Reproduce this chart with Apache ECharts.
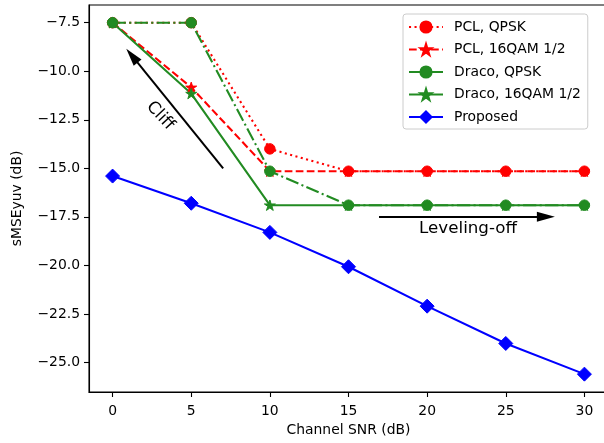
<!DOCTYPE html>
<html>
<head>
<meta charset="utf-8">
<script src="https://cdn.jsdelivr.net/npm/echarts@6/dist/echarts.min.js"></script>
<style>
  html, body { margin: 0; padding: 0; background: #fff; }
  #chart { width: 604px; height: 443px; }
</style>
</head>
<body>
<div id="chart"></div>
<script>
// channel SNR (dB)
const snr = [0, 5, 10, 15, 20, 25, 30]
const pclQpsk = [-7.5, -7.5, -14.0, -15.15, -15.15, -15.15, -15.15]
const pcl16qam = [-7.5, -10.83, -15.15, -15.15, -15.15, -15.15, -15.15]
const dracoQpsk = [-7.5, -7.5, -15.15, -16.9, -16.9, -16.9, -16.9]
const draco16qam = [-7.5, -11.15, -16.9, -16.9, -16.9, -16.9, -16.9]
const proposed = [-15.4, -16.8, -18.3, -20.07, -22.1, -24.02, -25.6]

const xTicks = [0, 5, 10, 15, 20, 25, 30]
const yTicks = [-25, -22.5, -20, -17.5, -15, -12.5, -10, -7.5]

const FONT = 'DejaVu Sans'
const STAR = 'path://M100,0L122.45,69.1L195.1,69.1L136.3,111.8L158.8,180.9L100,138.2L41.2,180.9L63.7,111.8L4.9,69.1L77.55,69.1Z'
const LW = 2.08

function pairs(ys) {
  return snr.map((x, i) => [x, ys[i]])
}

function lineSeries(name, ys, color, dash, symbol, size) {
  return {
    name: name,
    type: 'line',
    data: pairs(ys),
    symbol: symbol,
    symbolSize: size,
    symbolKeepAspect: true,
    showSymbol: true,
    lineStyle: { color: color, width: LW, type: dash },
    itemStyle: { color: color, borderColor: color, borderWidth: 1 }
  }
}

const axisText = { fontFamily: FONT, fontSize: 13.9, color: '#000' }

const chart = echarts.init(document.getElementById('chart'))
chart.setOption({
  animation: false,
  grid: {
    left: 89,
    top: 5,
    right: -4,
    bottom: 51,
    outerBoundsMode: 'none',
    containLabel: false,
    show: true,
    borderColor: '#000',
    borderWidth: 1.1
  },
  legend: {
    orient: 'vertical',
    left: 403,
    top: 14,
    itemWidth: 34,
    itemHeight: 14,
    itemGap: 8.5,
    padding: [6, 7, 5, 5],
    backgroundColor: 'rgba(255,255,255,0.8)',
    borderColor: '#cccccc',
    borderWidth: 1,
    borderRadius: 3,
    textStyle: { fontFamily: FONT, fontSize: 13.9, color: '#000', padding: [0, 0, 0, 6] },
    data: ['PCL, QPSK', 'PCL, 16QAM 1/2', 'Draco, QPSK', 'Draco, 16QAM 1/2', 'Proposed']
  },
  xAxis: {
    type: 'value',
    min: -1.5,
    max: 31.5,
    name: 'Channel SNR (dB)',
    nameLocation: 'middle',
    nameGap: 31,
    nameTextStyle: axisText,
    axisLine: { onZero: false, lineStyle: { color: '#000', width: 1.1 } },
    axisTick: { show: true, length: 5, lineStyle: { color: '#000', width: 1.1 }, customValues: xTicks },
    axisLabel: { ...axisText, margin: 12, customValues: xTicks },
    splitLine: { show: false }
  },
  yAxis: {
    type: 'value',
    min: -26.52,
    max: -6.59,
    name: 'sMSEyuv (dB)',
    nameLocation: 'middle',
    nameGap: 65,
    nameTextStyle: axisText,
    axisLine: { show: true, onZero: false, lineStyle: { color: '#000', width: 1.1 } },
    axisTick: { show: true, length: 5, lineStyle: { color: '#000', width: 1.1 }, customValues: yTicks },
    axisLabel: {
      ...axisText,
      margin: 9,
      customValues: yTicks,
      formatter: v => (v < 0 ? '\u2212' : '') + Math.abs(v).toFixed(1)
    },
    splitLine: { show: false }
  },
  series: [
    lineSeries('PCL, QPSK', pclQpsk, '#ff0000', [2.08, 3.44], 'circle', 10.5),
    lineSeries('PCL, 16QAM 1/2', pcl16qam, '#ff0000', [7.7, 3.33], STAR, 11),
    lineSeries('Draco, QPSK', dracoQpsk, '#228b22', [13.3, 3.33, 2.08, 3.33], 'circle', 10.5),
    lineSeries('Draco, 16QAM 1/2', draco16qam, '#228b22', 'solid', STAR, 11),
    lineSeries('Proposed', proposed, '#0000ff', 'solid', 'diamond', 14),
    {
      name: 'notes',
      type: 'line',
      data: [],
      silent: true,
      color: '#000',
      markLine: {
        silent: true,
        animation: false,
        symbol: ['none', 'triangle'],
        symbolSize: 14,
        label: { show: false },
        itemStyle: { color: '#000' },
        lineStyle: { color: '#000', width: 2, type: 'solid' },
        emphasis: { disabled: true },
        data: [
          [{ coord: [7.03, -15.0] }, { coord: [1.23, -9.2], symbol: 'triangle', symbolSize: [10, 18] }],
          [{ coord: [16.94, -17.5] }, { coord: [27.55, -17.5], symbol: 'triangle', symbolSize: [10, 18] }]
        ]
      },
      markPoint: {
        silent: true,
        animation: false,
        symbol: 'circle',
        symbolSize: 0,
        label: {
          show: true,
          position: 'inside',
          fontFamily: FONT,
          fontSize: 16.7,
          color: '#000'
        },
        data: [
          { coord: [3.03, -12.3], label: { formatter: 'Cliff', rotate: -47 } },
          { coord: [22.6, -18.12], label: { formatter: 'Leveling-off' } }
        ]
      }
    }
  ]
})
</script>
</body>
</html>
